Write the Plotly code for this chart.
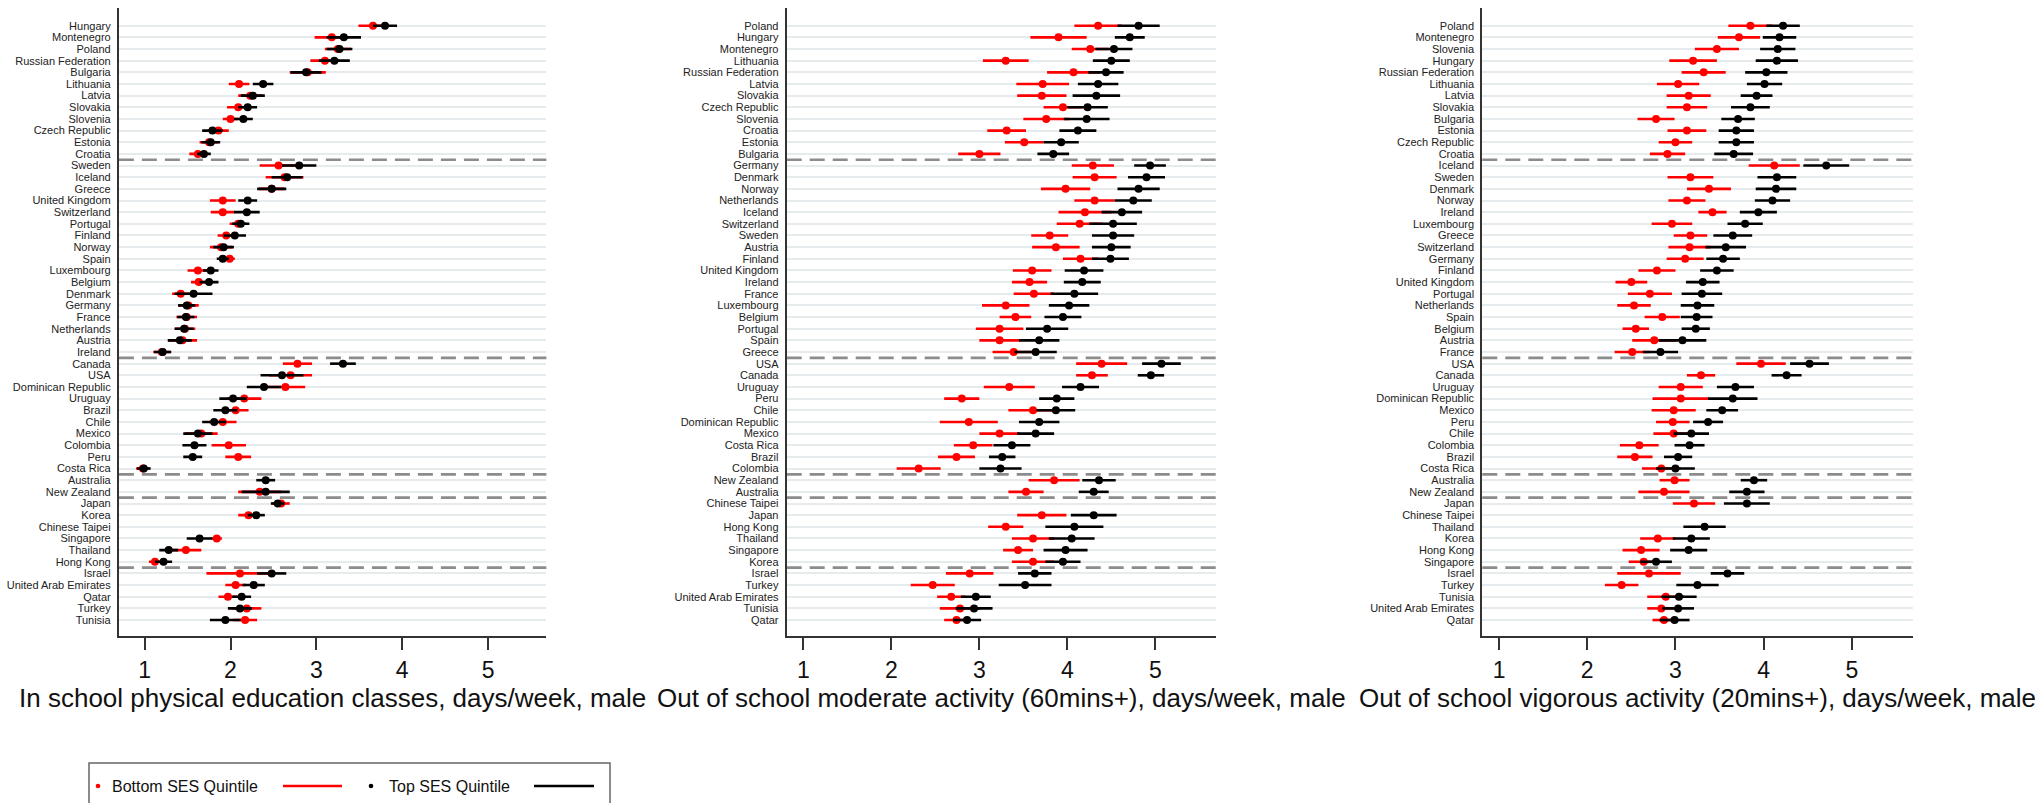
import plotly.graph_objects as go

# ---------------------------------------------------------------------------
# Data: mean days/week (male) for bottom and top SES quintiles, with 95% CI
# half-widths. Countries are listed top to bottom within each panel.
# ---------------------------------------------------------------------------
group_sizes = [12, 17, 10, 2, 6, 5]  # CEE, Western Europe, Americas, Oceania, Asia, Middle East/N. Africa

pe_countries = ["Hungary", "Montenegro", "Poland", "Russian Federation", "Bulgaria", "Lithuania",
                "Latvia", "Slovakia", "Slovenia", "Czech Republic", "Estonia", "Croatia",
                "Sweden", "Iceland", "Greece", "United Kingdom", "Switzerland", "Portugal",
                "Finland", "Norway", "Spain", "Luxembourg", "Belgium", "Denmark", "Germany",
                "France", "Netherlands", "Austria", "Ireland",
                "Canada", "USA", "Dominican Republic", "Uruguay", "Brazil", "Chile", "Mexico",
                "Colombia", "Peru", "Costa Rica",
                "Australia", "New Zealand",
                "Japan", "Korea", "Chinese Taipei", "Singapore", "Thailand", "Hong Kong",
                "Israel", "United Arab Emirates", "Qatar", "Turkey", "Tunisia"]
pe_bottom = [3.66, 3.18, 3.25, 3.10, 2.90, 2.10, 2.23, 2.09, 2.00, 1.86, 1.75, 1.62,
             2.56, 2.63, 2.48, 1.91, 1.91, 2.09, 1.95, 1.89, 1.99, 1.62, 1.63, 1.42, 1.51,
             1.49, 1.47, 1.44, 1.20,
             2.78, 2.70, 2.64, 2.16, 2.06, 1.91, 1.66, 1.98, 2.09, 0.98,
             None, 2.34,
             2.59, 2.21, None, 1.84, 1.48, 1.12,
             2.11, 2.06, 1.97, 2.19, 2.17]
pe_bottom_ci = [0.17, 0.20, 0.15, 0.17, 0.21, 0.12, 0.14, 0.13, 0.09, 0.12, 0.11, 0.10,
                0.22, 0.22, 0.15, 0.15, 0.14, 0.10, 0.10, 0.13, 0.06, 0.12, 0.09, 0.10, 0.12,
                0.12, 0.12, 0.17, 0.10,
                0.17, 0.25, 0.23, 0.20, 0.15, 0.16, 0.19, 0.20, 0.15, 0.08,
                None, 0.25,
                0.10, 0.12, None, 0.06, 0.18, 0.07,
                0.39, 0.12, 0.11, 0.17, 0.14]
pe_top = [3.80, 3.32, 3.27, 3.21, 2.88, 2.38, 2.26, 2.20, 2.15, 1.79, 1.77, 1.69,
          2.80, 2.66, 2.48, 2.20, 2.19, 2.12, 2.05, 1.92, 1.91, 1.77, 1.75, 1.57, 1.49,
          1.48, 1.46, 1.41, 1.21,
          3.31, 2.60, 2.39, 2.03, 1.94, 1.81, 1.62, 1.58, 1.56, 0.99,
          2.41, 2.41,
          2.55, 2.30, None, 1.64, 1.28, 1.22,
          2.48, 2.27, 2.13, 2.11, 1.94]
pe_top_ci = [0.14, 0.20, 0.15, 0.18, 0.18, 0.12, 0.14, 0.11, 0.11, 0.12, 0.11, 0.08,
             0.20, 0.18, 0.17, 0.11, 0.15, 0.10, 0.13, 0.12, 0.07, 0.09, 0.11, 0.22, 0.10,
             0.10, 0.11, 0.14, 0.10,
             0.15, 0.25, 0.20, 0.16, 0.14, 0.14, 0.17, 0.14, 0.11, 0.08,
             0.11, 0.28,
             0.08, 0.10, None, 0.15, 0.11, 0.10,
             0.17, 0.13, 0.11, 0.14, 0.18]

mod_countries = ["Poland", "Hungary", "Montenegro", "Lithuania", "Russian Federation", "Latvia",
                 "Slovakia", "Czech Republic", "Slovenia", "Croatia", "Estonia", "Bulgaria",
                 "Germany", "Denmark", "Norway", "Netherlands", "Iceland", "Switzerland",
                 "Sweden", "Austria", "Finland", "United Kingdom", "Ireland", "France",
                 "Luxembourg", "Belgium", "Portugal", "Spain", "Greece",
                 "USA", "Canada", "Uruguay", "Peru", "Chile", "Dominican Republic", "Mexico",
                 "Costa Rica", "Brazil", "Colombia",
                 "New Zealand", "Australia",
                 "Chinese Taipei", "Japan", "Hong Kong", "Thailand", "Singapore", "Korea",
                 "Israel", "Turkey", "United Arab Emirates", "Tunisia", "Qatar"]
mod_bottom = [4.35, 3.90, 4.26, 3.30, 4.07, 3.72, 3.71, 3.95, 3.76, 3.31, 3.51, 3.00,
              4.29, 4.31, 3.98, 4.31, 4.20, 4.14, 3.80, 3.87, 4.15, 3.60, 3.57, 3.62,
              3.30, 3.41, 3.23, 3.23, 3.39,
              4.39, 4.28, 3.34, 2.80, 3.61, 2.88, 3.23, 2.93, 2.74, 2.31,
              3.85, 3.53,
              None, 3.71, 3.30, 3.61, 3.44, 3.61,
              2.89, 2.47, 2.68, 2.78, 2.74]
mod_bottom_ci = [0.27, 0.32, 0.21, 0.26, 0.30, 0.30, 0.28, 0.22, 0.26, 0.22, 0.22, 0.24,
                 0.24, 0.25, 0.28, 0.23, 0.30, 0.26, 0.21, 0.27, 0.20, 0.22, 0.20, 0.23,
                 0.27, 0.18, 0.27, 0.23, 0.24,
                 0.29, 0.18, 0.29, 0.20, 0.28, 0.33, 0.23, 0.22, 0.21, 0.25,
                 0.29, 0.20,
                 None, 0.28, 0.20, 0.24, 0.17, 0.24,
                 0.27, 0.25, 0.16, 0.23, 0.14]
mod_top = [4.81, 4.71, 4.53, 4.50, 4.44, 4.35, 4.33, 4.23, 4.22, 4.12, 3.93, 3.84,
           4.94, 4.90, 4.81, 4.75, 4.62, 4.52, 4.52, 4.50, 4.49, 4.19, 4.17, 4.08,
           4.02, 3.95, 3.77, 3.68, 3.64,
           5.07, 4.95, 4.15, 3.88, 3.87, 3.68, 3.64, 3.37, 3.26, 3.24,
           4.36, 4.30,
           None, 4.30, 4.08, 4.05, 3.98, 3.95,
           3.63, 3.52, 2.96, 2.94, 2.86]
mod_top_ci = [0.24, 0.17, 0.21, 0.21, 0.20, 0.23, 0.27, 0.23, 0.26, 0.21, 0.20, 0.18,
              0.18, 0.21, 0.24, 0.21, 0.23, 0.27, 0.24, 0.22, 0.21, 0.22, 0.21, 0.27,
              0.23, 0.21, 0.24, 0.23, 0.24,
              0.22, 0.15, 0.21, 0.20, 0.22, 0.23, 0.21, 0.21, 0.15, 0.24,
              0.19, 0.17,
              None, 0.26, 0.33, 0.26, 0.25, 0.20,
              0.19, 0.30, 0.17, 0.21, 0.16]

vig_countries = ["Poland", "Montenegro", "Slovenia", "Hungary", "Russian Federation", "Lithuania",
                 "Latvia", "Slovakia", "Bulgaria", "Estonia", "Czech Republic", "Croatia",
                 "Iceland", "Sweden", "Denmark", "Norway", "Ireland", "Luxembourg", "Greece",
                 "Switzerland", "Germany", "Finland", "United Kingdom", "Portugal",
                 "Netherlands", "Spain", "Belgium", "Austria", "France",
                 "USA", "Canada", "Uruguay", "Dominican Republic", "Mexico", "Peru", "Chile",
                 "Colombia", "Brazil", "Costa Rica",
                 "Australia", "New Zealand",
                 "Japan", "Chinese Taipei", "Thailand", "Korea", "Hong Kong", "Singapore",
                 "Israel", "Turkey", "Tunisia", "United Arab Emirates", "Qatar"]
vig_bottom = [3.85, 3.72, 3.47, 3.20, 3.32, 3.03, 3.15, 3.13, 2.78, 3.13, 3.00, 2.91,
              4.12, 3.17, 3.38, 3.13, 3.42, 2.96, 3.17, 3.16, 3.11, 2.79, 2.50, 2.71,
              2.53, 2.85, 2.55, 2.76, 2.51,
              3.97, 3.29, 3.06, 3.06, 2.98, 2.97, 2.98, 2.59, 2.54, 2.84,
              2.99, 2.87,
              3.21, None, None, 2.80, 2.61, 2.64,
              2.70, 2.39, 2.89, 2.84, 2.87]
vig_bottom_ci = [0.25, 0.24, 0.25, 0.27, 0.25, 0.24, 0.25, 0.23, 0.21, 0.22, 0.19, 0.20,
                 0.29, 0.26, 0.25, 0.21, 0.16, 0.23, 0.19, 0.24, 0.21, 0.21, 0.18, 0.25,
                 0.19, 0.20, 0.15, 0.25, 0.20,
                 0.28, 0.16, 0.25, 0.32, 0.25, 0.19, 0.23, 0.22, 0.20, 0.22,
                 0.17, 0.29,
                 0.24, None, None, 0.20, 0.21, 0.17,
                 0.36, 0.19, 0.21, 0.16, 0.13]
vig_top = [4.22, 4.18, 4.16, 4.15, 4.03, 4.01, 3.92, 3.85, 3.71, 3.69, 3.69, 3.66,
           4.71, 4.15, 4.14, 4.10, 3.94, 3.79, 3.65, 3.57, 3.54, 3.47, 3.31, 3.30,
           3.25, 3.24, 3.23, 3.08, 2.83,
           4.52, 4.26, 3.68, 3.65, 3.53, 3.37, 3.18, 3.16, 3.03, 3.00,
           3.89, 3.81,
           3.81, None, 3.33, 3.18, 3.15, 2.78,
           3.59, 3.25, 3.04, 3.03, 2.99]
vig_top_ci = [0.19, 0.19, 0.20, 0.24, 0.24, 0.20, 0.18, 0.22, 0.19, 0.20, 0.20, 0.22,
              0.26, 0.22, 0.23, 0.20, 0.21, 0.20, 0.22, 0.23, 0.19, 0.19, 0.19, 0.23,
              0.19, 0.18, 0.16, 0.27, 0.20,
              0.22, 0.17, 0.21, 0.28, 0.18, 0.17, 0.20, 0.17, 0.16, 0.22,
              0.15, 0.20,
              0.26, None, 0.24, 0.21, 0.21, 0.18,
              0.19, 0.24, 0.20, 0.18, 0.17]

x_tick_values = [1, 2, 3, 4, 5]
panel_titles = ["In school physical education classes, days/week, male",
                "Out of school moderate activity (60mins+), days/week, male",
                "Out of school vigorous activity (20mins+), days/week, male"]
legend_labels = ["Bottom SES Quintile", "Top SES Quintile"]

# ---------------------------------------------------------------------------
# Layout / styling
# ---------------------------------------------------------------------------
W, H = 2036, 803
FONT = "Liberation Sans, Arial, Helvetica, sans-serif"
RED, BLACK = "#ff0000", "#000000"
AXIS_COLOR = "#333333"
GRID_COLOR = "#e6ebee"
DASH_COLOR = "#8c8c8c"

# pixel extents of each plotting area, and the x range shown in it
panel_px = [(118.9, 546.4), (786.7, 1216.0), (1482.3, 1912.7)]
panel_xrange = [[0.70, 5.68], [0.81, 5.69], [0.81, 5.69]]
plot_top_px, plot_bottom_px = 8.0, 636.0
y_range = [53.37, -0.52]

panels = [
    (pe_countries, pe_bottom, pe_bottom_ci, pe_top, pe_top_ci),
    (mod_countries, mod_bottom, mod_bottom_ci, mod_top, mod_top_ci),
    (vig_countries, vig_bottom, vig_bottom_ci, vig_top, vig_top_ci),
]

# boundaries between country groups (between consecutive rows)
breaks = []
acc = 0
for g in group_sizes[:-1]:
    acc += g
    breaks.append(acc + 0.5)

fig = go.Figure()
layout = dict(
    width=W, height=H,
    margin=dict(l=0, r=0, t=0, b=0),
    paper_bgcolor="white", plot_bgcolor="white",
    showlegend=False,
    font=dict(family=FONT, color="#222222"),
    shapes=[], annotations=[],
)

y_dom = [1 - plot_bottom_px / H, 1 - plot_top_px / H]

for i, (countries, bot, bot_ci, top, top_ci) in enumerate(panels):
    n = i + 1
    xa = "x" if n == 1 else f"x{n}"
    ya = "y" if n == 1 else f"y{n}"
    rows = list(range(1, len(countries) + 1))

    for vals, errs, color, name in ((bot, bot_ci, RED, legend_labels[0]),
                                    (top, top_ci, BLACK, legend_labels[1])):
        fig.add_trace(go.Scatter(
            x=vals, y=rows, xaxis=xa, yaxis=ya, mode="markers", name=name,
            marker=dict(color=color, size=8, line=dict(width=0)),
            error_x=dict(type="data", array=[e if e is not None else 0 for e in errs],
                         symmetric=True, color=color, thickness=2.6, width=0),
            text=countries, hoverinfo="x+text",
        ))

    x0, x1 = panel_px[i]
    layout[f"xaxis{'' if n == 1 else n}"] = dict(
        domain=[x0 / W, x1 / W], range=panel_xrange[i], anchor=ya,
        tickvals=x_tick_values, ticks="outside", ticklen=12, tickwidth=2,
        tickcolor=AXIS_COLOR, showline=True, linecolor=AXIS_COLOR, linewidth=2,
        showgrid=False, zeroline=False, automargin=False,
        tickfont=dict(size=23, color="#111111"),
        title=dict(text=panel_titles[i], font=dict(size=26, color="#111111"), standoff=4),
    )
    layout[f"yaxis{'' if n == 1 else n}"] = dict(
        domain=y_dom, range=y_range, autorange=False, anchor=xa,
        tickvals=rows, ticktext=countries, ticks="", ticklabelstandoff=4,
        tickfont=dict(size=11, color="#222222"),
        showgrid=True, gridcolor=GRID_COLOR, gridwidth=2,
        showline=True, linecolor=AXIS_COLOR, linewidth=2,
        zeroline=False, automargin=False,
    )
    for b in breaks:
        layout["shapes"].append(dict(
            type="line", xref=f"{xa} domain", yref=ya, x0=0, x1=1, y0=b, y1=b,
            line=dict(color=DASH_COLOR, width=2.6, dash="15px,8px"), layer="below",
        ))


def px(x):
    return x / W


def py(y):
    return 1 - y / H


# legend box drawn beneath the first panel
leg_y = 786
layout["shapes"].append(dict(type="rect", xref="paper", yref="paper",
                             x0=px(89), x1=px(610), y0=py(763), y1=py(830),
                             line=dict(color="#666666", width=1.5), fillcolor="rgba(0,0,0,0)"))
for cx, tx, lx0, lx1, color, label in ((98, 110, 283, 342, RED, legend_labels[0]),
                                       (371, 387, 534, 594, BLACK, legend_labels[1])):
    layout["shapes"].append(dict(type="circle", xref="paper", yref="paper",
                                 x0=px(cx - 2.3), x1=px(cx + 2.3),
                                 y0=py(leg_y - 2.3), y1=py(leg_y + 2.3),
                                 fillcolor=color, line=dict(width=0)))
    layout["shapes"].append(dict(type="line", xref="paper", yref="paper",
                                 x0=px(lx0), x1=px(lx1), y0=py(leg_y), y1=py(leg_y),
                                 line=dict(color=color, width=2.5)))
    layout["annotations"].append(dict(text=label, xref="paper", yref="paper",
                                      x=px(tx), y=py(leg_y), xanchor="left", yanchor="middle",
                                      showarrow=False, font=dict(size=16, color="#111111")))

fig.update_layout(**layout)
fig.write_html("out.html")
